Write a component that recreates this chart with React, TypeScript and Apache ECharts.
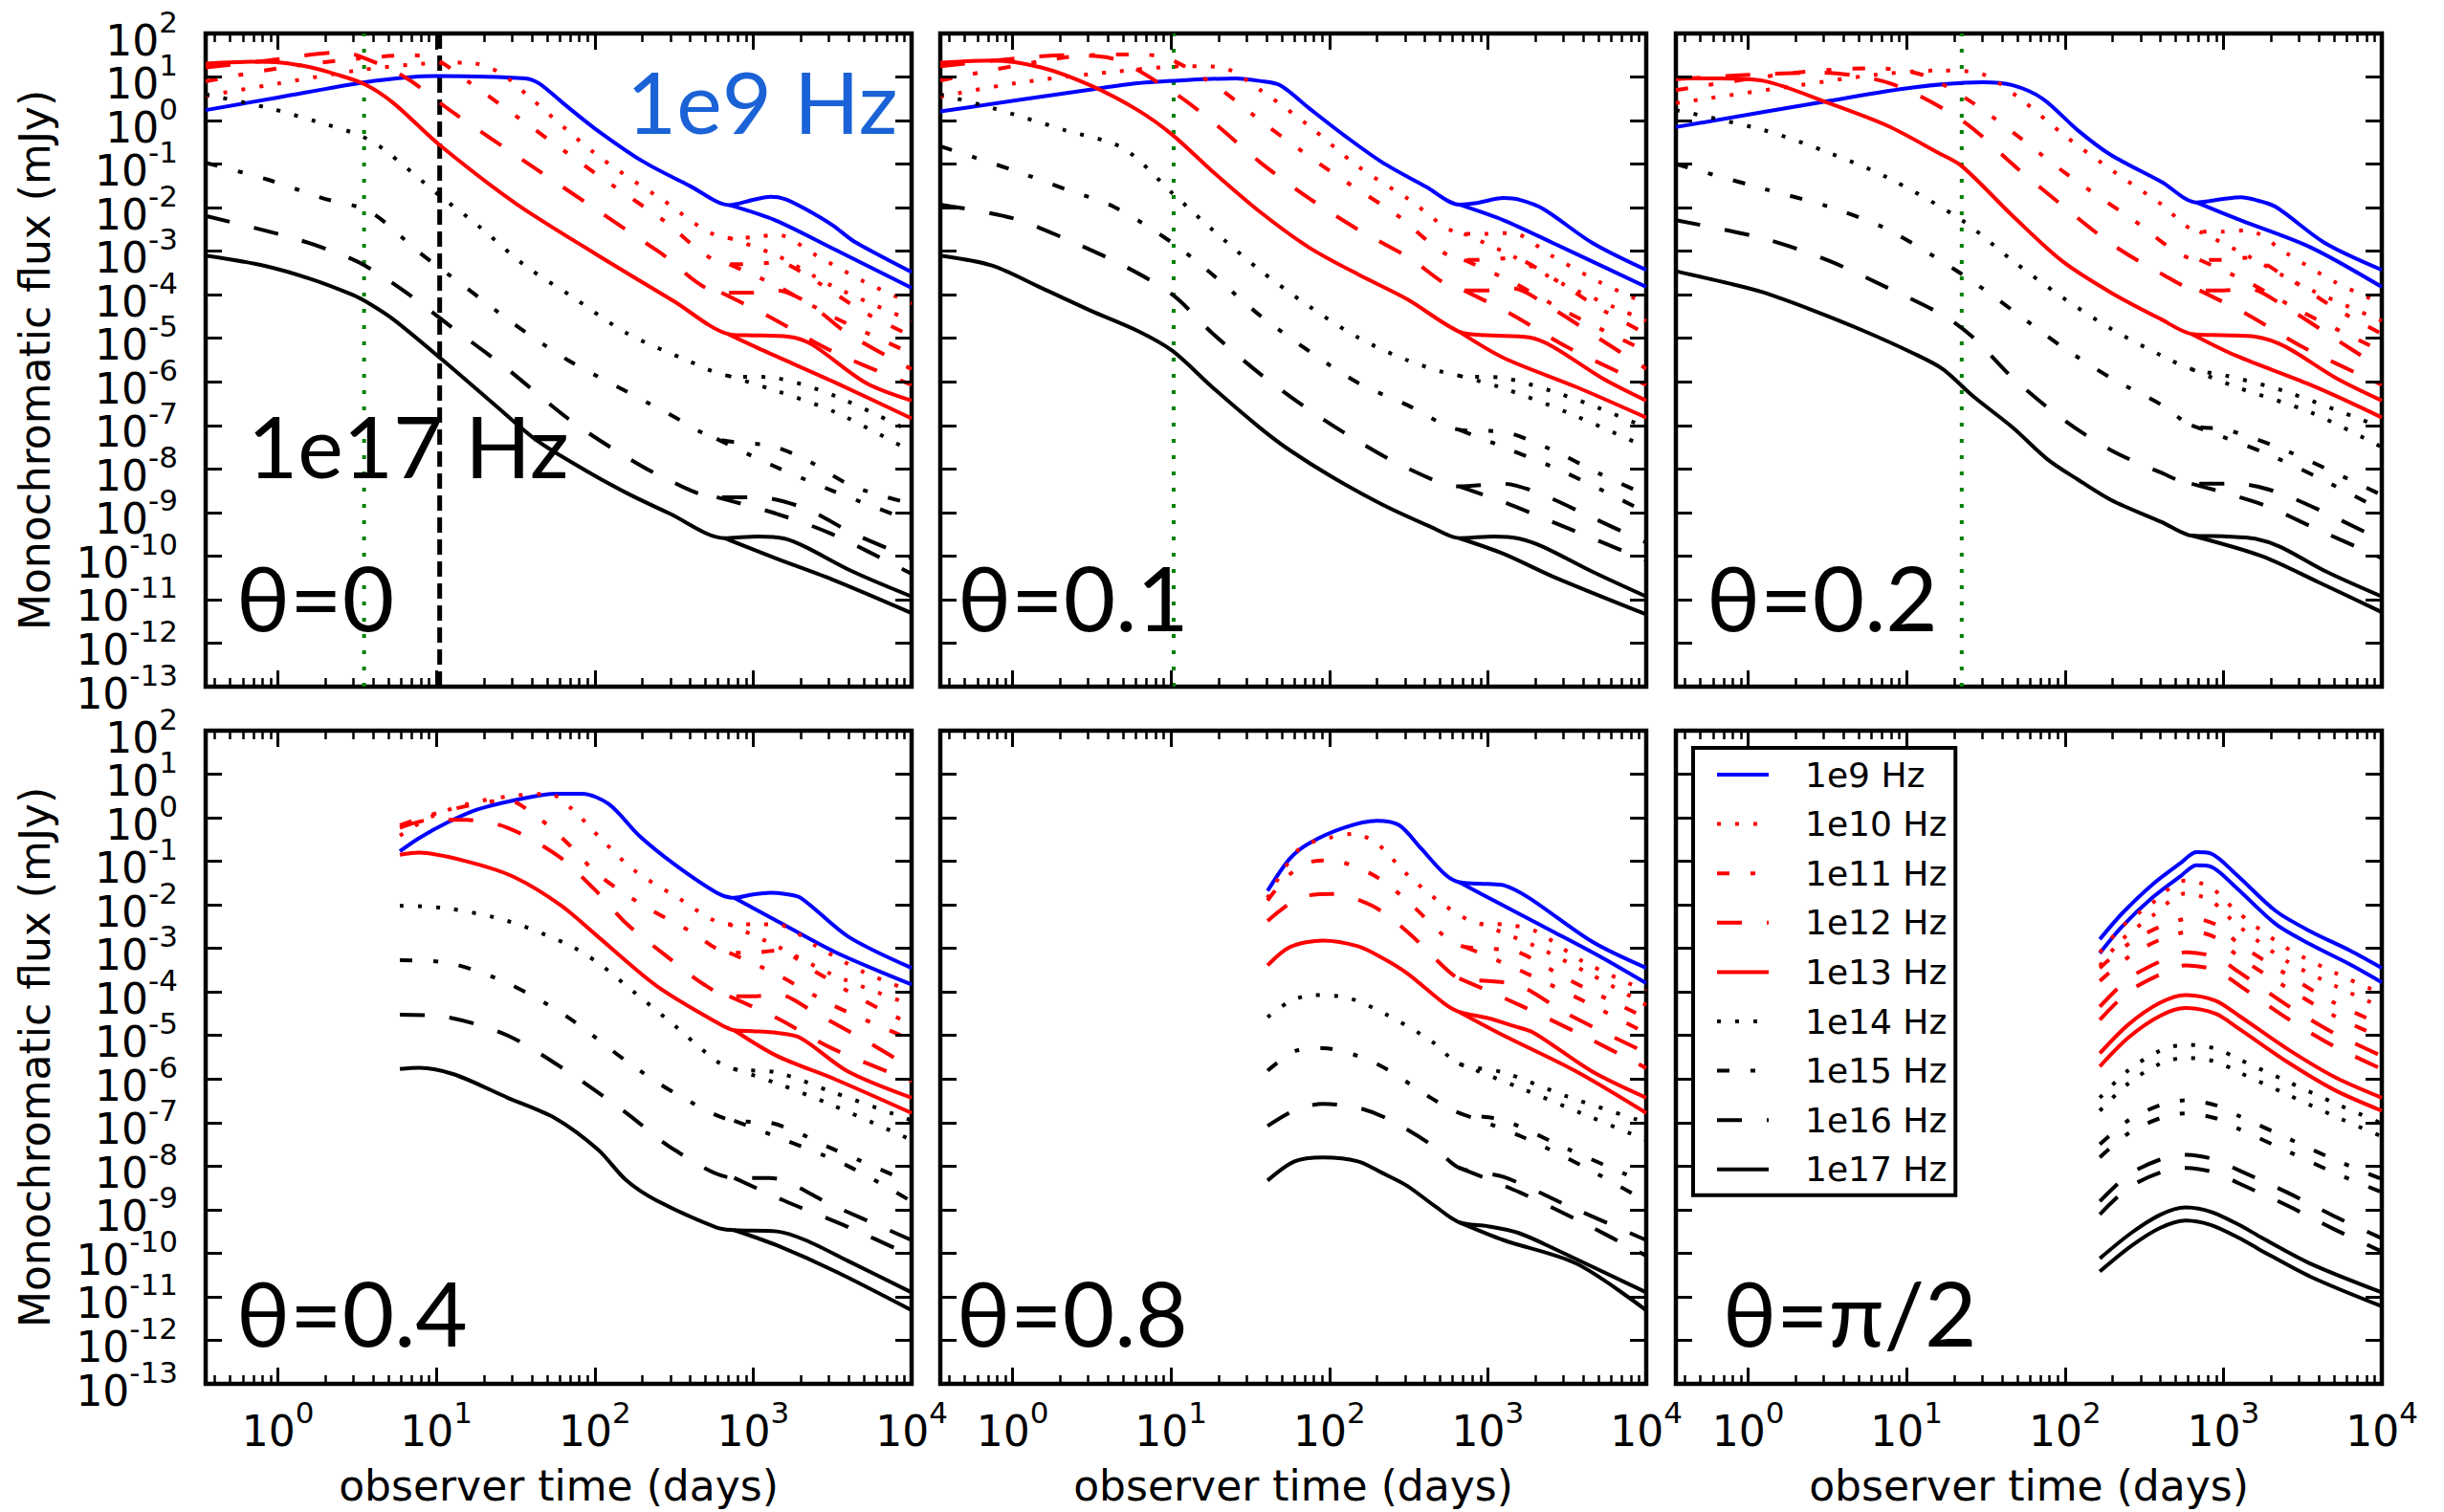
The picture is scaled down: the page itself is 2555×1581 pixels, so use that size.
import React, { useEffect, useRef } from "react";
import * as echarts from "echarts";

// ---------------- labels / ticks ----------------
const FREQS = ["1e9 Hz", "1e10 Hz", "1e11 Hz", "1e12 Hz", "1e13 Hz", "1e14 Hz", "1e15 Hz", "1e16 Hz", "1e17 Hz"];
const PANEL_TITLES = ["θ=0", "θ=0.1", "θ=0.2", "θ=0.4", "θ=0.8", "θ=π/2"];
const X_MAJOR = [1, 10, 100, 1000, 10000];
const X_MINOR = [0.4, 0.5, 0.6, 0.7, 0.8, 0.9, 2, 3, 4, 5, 6, 7, 8, 9, 20, 30, 40, 50, 60, 70, 80, 90,
  200, 300, 400, 500, 600, 700, 800, 900, 2000, 3000, 4000, 5000, 6000, 7000, 8000, 9000];
const Y_MAJOR = [1e-13, 1e-12, 1e-11, 1e-10, 1e-9, 1e-8, 1e-7, 1e-6, 1e-5, 1e-4, 1e-3, 1e-2, 1e-1, 1, 10, 100];
const X_MIN = 0.35, X_MAX = 10000, Y_MIN = 1e-13, Y_MAX = 100;

// vertical marker times (days)
const GREEN_T = [3.5, 10.4, 22.3]; // panels θ=0, 0.1, 0.2
const BLACK_T = [10.5];            // panel θ=0

// ---------------- data: [log10(days), log10(mJy)] ----------------
// "MAIN" = full light curve (incl. late bump), "FWD" = second branch that splits off at late times
const TH0_MAIN = [
  [[-0.456,0.24],[0,0.53],[0.55,0.88],[0.85,1.0],[1.0,1.02],[1.56,0.97],[1.65,0.85],[1.8,0.4],[2.0,-0.18],[2.3,-0.93],[2.6,-1.5],[2.85,-1.94],[3.0,-1.82],[3.11,-1.75],[3.2,-1.8],[3.33,-2.03],[3.5,-2.4],[3.63,-2.76],[3.8,-3.1],[4.0,-3.48]],
  [[-0.456,0.57],[0,0.85],[0.5,1.15],[0.9,1.3],[1.2,1.33],[1.4,1.1],[1.6,0.5],[2.0,-0.75],[2.4,-1.75],[2.85,-2.7],[3.0,-2.68],[3.15,-2.62],[3.4,-3.1],[3.7,-3.7],[4.0,-4.2]],
  [[-0.456,0.9],[0,1.2],[0.5,1.42],[0.85,1.5],[1.0,1.4],[1.2,0.9],[1.6,-0.15],[2.0,-1.2],[2.4,-2.2],[2.85,-3.3],[3.0,-3.3],[3.15,-3.25],[3.4,-3.7],[3.7,-4.4],[4.0,-4.95]],
  [[-0.456,1.22],[-0.06,1.38],[0.38,1.56],[0.5,1.5],[0.8,1.0],[1.1,0.2],[1.6,-1.04],[2.0,-2.02],[2.4,-3.0],[2.8,-3.95],[3.0,-3.95],[3.15,-3.9],[3.35,-4.2],[3.6,-4.9],[4.0,-5.71]],
  [[-0.456,1.31],[-0.17,1.35],[0.02,1.33],[0.21,1.22],[0.36,1.07],[0.55,0.83],[0.73,0.4],[1.02,-0.56],[1.5,-1.9],[2.0,-3.05],[2.5,-4.15],[2.84,-4.9],[2.96,-4.93],[3.22,-4.96],[3.37,-5.14],[3.71,-6.02],[4.0,-6.43]],
  [[-0.456,0.6],[-0.06,0.29],[0.24,-0.02],[0.51,-0.33],[0.66,-0.64],[1.02,-1.72],[1.26,-2.4],[1.56,-3.33],[1.86,-4.05],[2.2,-4.88],[2.58,-5.5],[2.84,-5.86],[3.14,-5.91],[3.52,-6.33],[4.0,-7.15]],
  [[-0.456,-0.97],[-0.06,-1.36],[0.28,-1.78],[0.58,-2.09],[0.89,-3.02],[1.19,-3.84],[1.49,-4.67],[1.83,-5.5],[2.2,-6.22],[2.47,-6.74],[2.77,-7.31],[3.11,-7.47],[3.33,-7.78],[3.63,-8.4],[4.0,-8.8]],
  [[-0.456,-2.19],[0.06,-2.66],[0.36,-3.02],[0.55,-3.33],[0.81,-3.95],[1.11,-4.78],[1.45,-5.71],[1.83,-6.84],[2.13,-7.57],[2.43,-8.19],[2.77,-8.65],[3.03,-8.65],[3.33,-8.91],[3.63,-9.48],[4.0,-10.05]],
  [[-0.456,-3.1],[-0.09,-3.33],[0.21,-3.64],[0.47,-4.0],[0.58,-4.21],[0.73,-4.57],[1.04,-5.5],[1.37,-6.53],[1.64,-7.36],[1.94,-8.03],[2.2,-8.55],[2.47,-9.02],[2.82,-9.59],[3.03,-9.55],[3.2,-9.6],[3.33,-9.79],[3.63,-10.36],[4.0,-10.93]],
];
const TH0_FWD = [
  [[2.85,-1.94],[3.14,-2.29],[3.52,-2.97],[4.0,-3.84]],
  [[2.85,-2.7],[3.15,-3.1],[3.5,-3.8],[4.0,-4.6]],
  [[2.85,-3.3],[3.15,-3.8],[3.5,-4.5],[4.0,-5.35]],
  [[2.8,-3.95],[3.1,-4.5],[3.5,-5.3],[4.0,-6.07]],
  [[2.84,-4.9],[3.07,-5.29],[3.52,-6.02],[4.0,-6.84]],
  [[2.84,-5.86],[3.14,-6.2],[3.52,-6.7],[4.0,-7.6]],
  [[2.77,-7.31],[3.11,-7.9],[3.5,-8.5],[4.0,-9.2]],
  [[2.77,-8.65],[3.14,-9.02],[3.5,-9.5],[4.0,-10.41]],
  [[2.82,-9.59],[3.14,-10.05],[3.52,-10.57],[4.0,-11.31]],
];

const TH01_MAIN = [
  [[-0.456,0.21],[0.49,0.71],[0.79,0.86],[1.1,0.93],[1.41,0.97],[1.56,0.91],[1.69,0.81],[1.87,0.29],[2.09,-0.33],[2.33,-0.95],[2.61,-1.52],[2.82,-1.93],[2.92,-1.9],[3.1,-1.78],[3.2,-1.82],[3.35,-2.03],[3.66,-2.81],[4.0,-3.43]],
  [[-0.456,0.55],[0.02,0.86],[0.64,1.12],[1.1,1.25],[1.32,1.22],[1.56,0.71],[1.87,-0.12],[2.18,-1.05],[2.49,-1.78],[2.85,-2.6],[3.0,-2.6],[3.15,-2.58],[3.4,-3.1],[3.7,-3.7],[4.0,-4.2]],
  [[-0.456,0.92],[0.33,1.45],[0.8,1.52],[1.0,1.4],[1.3,0.75],[1.6,-0.1],[2.0,-1.15],[2.4,-2.1],[2.85,-3.2],[3.0,-3.2],[3.15,-3.15],[3.4,-3.6],[3.7,-4.3],[4.0,-4.9]],
  [[-0.456,1.25],[0.0,1.42],[0.33,1.5],[0.6,1.45],[1.01,0.66],[1.26,-0.02],[1.56,-0.95],[1.87,-1.78],[2.18,-2.5],[2.49,-3.12],[2.85,-3.9],[3.0,-3.9],[3.15,-3.85],[3.4,-4.3],[3.7,-5.0],[4.0,-5.7]],
  [[-0.456,1.33],[-0.13,1.38],[0.18,1.22],[0.49,0.81],[0.79,0.24],[1.01,-0.33],[1.26,-1.16],[1.56,-2.09],[1.87,-2.91],[2.18,-3.53],[2.49,-4.1],[2.82,-4.85],[3.0,-4.93],[3.26,-4.98],[3.41,-5.19],[3.72,-5.91],[4.0,-6.43]],
  [[-0.456,0.6],[-0.13,0.29],[0.33,-0.22],[0.7,-0.64],[1.01,-1.67],[1.26,-2.5],[1.56,-3.43],[1.87,-4.26],[2.18,-4.98],[2.49,-5.5],[2.82,-5.86],[3.1,-5.91],[3.41,-6.22],[3.7,-6.6],[4.0,-7.05]],
  [[-0.456,-0.59],[0.02,-1.16],[0.33,-1.57],[0.64,-1.98],[1.01,-2.81],[1.26,-3.53],[1.56,-4.47],[1.87,-5.29],[2.18,-6.02],[2.49,-6.53],[2.82,-7.1],[3.1,-7.15],[3.41,-7.57],[3.7,-8.1],[4.0,-8.6]],
  [[-0.456,-1.93],[0.0,-2.24],[0.33,-2.71],[0.7,-3.33],[1.01,-4.0],[1.26,-4.88],[1.56,-5.81],[1.87,-6.64],[2.18,-7.36],[2.49,-7.98],[2.82,-8.4],[3.1,-8.34],[3.35,-8.6],[3.66,-9.12],[4.0,-9.69]],
  [[-0.456,-3.1],[-0.13,-3.33],[0.18,-3.84],[0.49,-4.36],[0.79,-4.83],[1.01,-5.29],[1.26,-6.12],[1.56,-7.05],[1.75,-7.57],[2.02,-8.19],[2.33,-8.81],[2.64,-9.33],[2.82,-9.59],[3.04,-9.55],[3.2,-9.6],[3.35,-9.79],[3.66,-10.36],[4.0,-10.93]],
];
const TH01_FWD = [
  [[2.82,-1.93],[3.1,-2.29],[3.41,-2.81],[4.0,-3.82]],
  [[2.85,-2.6],[3.15,-3.1],[3.5,-3.8],[4.0,-4.6]],
  [[2.85,-3.2],[3.15,-3.7],[3.5,-4.4],[4.0,-5.3]],
  [[2.85,-3.9],[3.15,-4.45],[3.5,-5.2],[4.0,-6.07]],
  [[2.82,-4.85],[3.1,-5.45],[3.56,-6.12],[4.0,-6.82]],
  [[2.82,-5.86],[3.1,-6.15],[3.5,-6.7],[4.0,-7.5]],
  [[2.82,-7.1],[3.1,-7.5],[3.5,-8.1],[4.0,-9.0]],
  [[2.82,-8.4],[3.1,-8.76],[3.41,-9.22],[4.0,-10.1]],
  [[2.82,-9.59],[3.1,-9.95],[3.41,-10.47],[4.0,-11.34]],
];

const TH02_MAIN = [
  [[-0.456,-0.15],[0.51,0.45],[1.04,0.76],[1.48,0.88],[1.67,0.81],[1.86,0.5],[2.08,-0.22],[2.29,-0.79],[2.61,-1.41],[2.83,-1.88],[3.0,-1.8],[3.11,-1.76],[3.2,-1.82],[3.33,-1.98],[3.64,-2.81],[4.0,-3.43]],
  [[-0.456,0.4],[0.3,0.8],[0.8,1.05],[1.2,1.15],[1.45,1.1],[1.7,0.55],[2.0,-0.35],[2.3,-1.15],[2.6,-1.9],[2.85,-2.55],[3.0,-2.55],[3.15,-2.52],[3.4,-3.05],[3.7,-3.7],[4.0,-4.2]],
  [[-0.456,0.7],[0.3,1.1],[0.8,1.2],[1.1,1.05],[1.4,0.45],[1.7,-0.35],[2.0,-1.2],[2.4,-2.2],[2.85,-3.2],[3.0,-3.2],[3.15,-3.15],[3.4,-3.6],[3.7,-4.3],[4.0,-4.9]],
  [[-0.456,0.95],[0.0,1.05],[0.45,1.1],[0.9,0.85],[1.35,0.0],[1.7,-1.1],[2.0,-2.0],[2.3,-2.85],[2.6,-3.5],[2.85,-3.9],[3.0,-3.9],[3.15,-3.85],[3.4,-4.3],[3.7,-5.0],[4.0,-5.7]],
  [[-0.456,0.97],[-0.18,0.97],[0.1,0.91],[0.51,0.4],[0.88,-0.12],[1.2,-0.74],[1.35,-1.05],[1.67,-2.19],[1.98,-3.22],[2.29,-3.95],[2.61,-4.57],[2.8,-4.9],[3.0,-4.93],[3.2,-4.96],[3.39,-5.19],[3.71,-5.91],[4.0,-6.43]],
  [[-0.456,0.24],[0.1,-0.22],[0.51,-0.74],[0.88,-1.31],[1.35,-2.29],[1.67,-3.22],[1.98,-4.05],[2.29,-4.78],[2.61,-5.4],[2.8,-5.71],[3.02,-5.86],[3.39,-6.22],[4.0,-7.05]],
  [[-0.456,-1.0],[0.1,-1.57],[0.51,-1.98],[0.88,-2.5],[1.35,-3.53],[1.67,-4.36],[1.98,-5.19],[2.29,-5.91],[2.61,-6.53],[2.8,-7.0],[3.02,-7.1],[3.39,-7.57],[4.0,-8.6]],
  [[-0.456,-2.29],[0.1,-2.71],[0.51,-3.22],[0.88,-3.84],[1.23,-4.47],[1.42,-4.98],[1.67,-5.91],[1.98,-6.84],[2.29,-7.57],[2.61,-8.09],[2.8,-8.34],[3.08,-8.34],[3.39,-8.6],[4.0,-9.64]],
  [[-0.456,-3.46],[-0.12,-3.74],[0.1,-3.95],[0.41,-4.36],[0.73,-4.83],[1.04,-5.34],[1.23,-5.71],[1.42,-6.33],[1.67,-7.05],[1.89,-7.78],[2.08,-8.24],[2.29,-8.71],[2.61,-9.22],[2.8,-9.53],[3.02,-9.55],[3.2,-9.6],[3.36,-9.79],[3.65,-10.36],[4.0,-10.93]],
];
const TH02_FWD = [
  [[2.83,-1.88],[3.11,-2.29],[3.55,-2.91],[4.0,-3.82]],
  [[2.85,-2.55],[3.15,-3.1],[3.5,-3.8],[4.0,-4.6]],
  [[2.85,-3.2],[3.15,-3.7],[3.5,-4.4],[4.0,-5.3]],
  [[2.85,-3.9],[3.15,-4.45],[3.5,-5.2],[4.0,-6.07]],
  [[2.8,-4.9],[3.08,-5.4],[3.55,-6.07],[4.0,-6.82]],
  [[2.8,-5.71],[3.08,-6.12],[3.55,-6.7],[4.0,-7.5]],
  [[2.8,-7.0],[3.24,-7.6],[3.6,-8.2],[4.0,-8.95]],
  [[2.8,-8.34],[3.24,-8.81],[3.6,-9.4],[4.0,-10.05]],
  [[2.8,-9.53],[3.24,-10.0],[3.6,-10.6],[4.0,-11.29]],
];

const TH04_MAIN = [
  [[0.77,-0.77],[0.89,-0.47],[1.07,-0.11],[1.26,0.19],[1.53,0.43],[1.75,0.55],[1.92,0.55],[2.09,0.31],[2.28,-0.41],[2.5,-1.06],[2.77,-1.72],[2.88,-1.84],[3.0,-1.76],[3.11,-1.72],[3.2,-1.75],[3.3,-1.84],[3.6,-2.73],[4.0,-3.45]],
  [[0.77,-0.41],[0.96,0.01],[1.19,0.31],[1.45,0.49],[1.71,0.55],[1.86,0.19],[2.02,-0.41],[2.24,-1.18],[2.5,-1.78],[2.85,-2.45],[3.0,-2.45],[3.15,-2.45],[3.4,-2.95],[3.7,-3.55],[4.0,-3.98]],
  [[0.77,-0.17],[1.0,0.1],[1.3,0.35],[1.45,0.4],[1.64,0.01],[1.83,-0.59],[2.02,-1.3],[2.3,-2.0],[2.6,-2.6],[2.85,-3.1],[3.0,-3.1],[3.15,-3.05],[3.4,-3.55],[3.7,-4.2],[4.0,-4.75]],
  [[0.77,-0.23],[0.96,-0.05],[1.19,-0.05],[1.45,-0.23],[1.77,-0.88],[2.0,-1.65],[2.2,-2.43],[2.45,-3.17],[2.69,-3.83],[2.85,-4.1],[3.0,-4.1],[3.15,-4.05],[3.4,-4.5],[3.7,-5.1],[4.0,-5.75]],
  [[0.77,-0.85],[0.89,-0.8],[1.19,-1.0],[1.49,-1.36],[1.79,-2.02],[2.02,-2.73],[2.39,-3.86],[2.77,-4.7],[2.88,-4.88],[3.0,-4.9],[3.15,-4.94],[3.3,-5.06],[3.6,-5.83],[4.0,-6.43]],
  [[0.77,-2.02],[1.07,-2.08],[1.45,-2.37],[1.83,-2.91],[2.02,-3.33],[2.24,-3.98],[2.5,-4.76],[2.77,-5.59],[2.88,-5.77],[3.15,-5.85],[3.5,-6.3],[4.0,-6.95]],
  [[0.77,-3.27],[1.07,-3.33],[1.45,-3.8],[1.83,-4.58],[2.2,-5.59],[2.5,-6.31],[2.88,-6.96],[3.1,-7.0],[3.5,-7.6],[4.0,-8.39]],
  [[0.77,-4.52],[1.07,-4.58],[1.45,-5.0],[1.83,-5.83],[2.2,-6.78],[2.5,-7.62],[2.88,-8.27],[3.1,-8.27],[3.5,-8.9],[4.0,-9.7]],
  [[0.77,-5.77],[0.89,-5.74],[1.11,-5.89],[1.45,-6.43],[1.75,-6.9],[2.02,-7.62],[2.2,-8.33],[2.39,-8.79],[2.77,-9.41],[2.88,-9.47],[3.15,-9.5],[3.33,-9.7],[3.6,-10.18],[4.0,-10.9]],
];
const TH04_FWD = [
  [[2.88,-1.84],[3.15,-2.37],[3.52,-3.09],[4.0,-3.83]],
  [[2.85,-2.45],[3.15,-2.95],[3.5,-3.6],[4.0,-4.3]],
  [[2.85,-3.1],[3.15,-3.6],[3.5,-4.3],[4.0,-5.1]],
  [[2.85,-4.1],[3.15,-4.6],[3.5,-5.3],[4.0,-6.05]],
  [[2.88,-4.88],[3.15,-5.47],[3.52,-6.01],[4.0,-6.78]],
  [[2.88,-5.77],[3.15,-6.1],[3.5,-6.6],[4.0,-7.4]],
  [[2.88,-6.96],[3.2,-7.4],[3.6,-8.0],[4.0,-8.81]],
  [[2.88,-8.27],[3.2,-8.8],[3.6,-9.4],[4.0,-10.06]],
  [[2.88,-9.47],[3.15,-9.82],[3.52,-10.42],[4.0,-11.31]],
];

const TH08_MAIN = [
  [[1.61,-1.68],[1.75,-0.94],[1.87,-0.59],[2.09,-0.23],[2.3,-0.07],[2.44,-0.17],[2.58,-0.71],[2.73,-1.3],[2.82,-1.48],[3.0,-1.52],[3.1,-1.55],[3.26,-1.84],[3.66,-2.85],[4.0,-3.45]],
  [[1.61,-1.84],[1.81,-0.71],[2.02,-0.44],[2.15,-0.37],[2.3,-0.59],[2.49,-1.3],[2.73,-2.02],[2.95,-2.43],[3.1,-2.45],[3.3,-2.6],[3.6,-3.3],[4.0,-3.98]],
  [[1.61,-1.9],[1.75,-1.3],[1.9,-1.0],[2.0,-0.98],[2.27,-1.3],[2.49,-1.9],[2.73,-2.73],[2.86,-2.97],[3.0,-3.0],[3.2,-3.1],[3.5,-3.7],[4.0,-4.6]],
  [[1.61,-2.37],[1.81,-1.84],[2.02,-1.75],[2.27,-2.02],[2.49,-2.61],[2.73,-3.45],[2.82,-3.69],[3.0,-3.75],[3.2,-3.85],[3.5,-4.5],[4.0,-5.4]],
  [[1.61,-3.39],[1.75,-2.97],[1.96,-2.82],[2.18,-2.95],[2.33,-3.21],[2.49,-3.57],[2.73,-4.28],[2.82,-4.46],[3.0,-4.6],[3.16,-4.78],[3.29,-4.94],[3.66,-5.83],[4.0,-6.43]],
  [[1.61,-4.58],[1.75,-4.22],[1.9,-4.07],[2.12,-4.14],[2.36,-4.52],[2.64,-5.12],[2.82,-5.65],[3.1,-5.85],[3.5,-6.4],[4.0,-7.0]],
  [[1.61,-5.81],[1.79,-5.35],[1.96,-5.29],[2.18,-5.47],[2.36,-5.77],[2.64,-6.43],[2.82,-6.78],[3.1,-6.95],[3.5,-7.6],[4.0,-8.39]],
  [[1.61,-7.08],[1.78,-6.72],[1.96,-6.57],[2.18,-6.66],[2.36,-6.9],[2.64,-7.5],[2.82,-8.04],[3.1,-8.25],[3.5,-8.9],[4.0,-9.7]],
  [[1.61,-8.33],[1.78,-7.89],[1.96,-7.8],[2.18,-7.89],[2.33,-8.15],[2.49,-8.45],[2.67,-8.93],[2.82,-9.29],[3.0,-9.38],[3.19,-9.53],[3.41,-9.88],[4.0,-10.9]],
];
const TH08_FWD = [
  [[2.82,-1.48],[3.1,-2.02],[3.41,-2.61],[3.72,-3.21],[4.0,-3.8]],
  [[2.95,-2.43],[3.3,-2.95],[3.65,-3.6],[4.0,-4.3]],
  [[2.86,-2.97],[3.2,-3.5],[3.6,-4.2],[4.0,-4.95]],
  [[2.82,-3.69],[3.2,-4.3],[3.6,-5.0],[4.0,-5.75]],
  [[2.82,-4.46],[3.1,-5.0],[3.56,-5.83],[4.0,-6.78]],
  [[2.82,-5.65],[3.2,-6.2],[3.6,-6.8],[4.0,-7.4]],
  [[2.82,-6.78],[3.2,-7.3],[3.6,-8.0],[4.0,-8.81]],
  [[2.82,-8.04],[3.2,-8.6],[3.6,-9.3],[4.0,-10.06]],
  [[2.82,-9.29],[3.1,-9.7],[3.56,-10.24],[4.0,-11.31]],
];

// θ = π/2: two parallel curves per frequency (upper / lower)
const TH90_UPPER = [
  [[2.22,-2.79],[2.36,-2.2],[2.55,-1.54],[2.73,-1.04],[2.83,-0.79],[2.92,-0.82],[3.08,-1.3],[3.33,-2.14],[3.55,-2.61],[3.8,-3.05],[4.0,-3.45]],
  [[2.22,-3.09],[2.36,-2.5],[2.55,-1.96],[2.76,-1.44],[2.92,-1.6],[3.08,-2.14],[3.39,-2.97],[3.71,-3.57],[4.0,-4.04]],
  [[2.22,-3.45],[2.4,-2.9],[2.6,-2.5],[2.8,-2.31],[2.95,-2.45],[3.1,-2.9],[3.4,-3.6],[3.7,-4.25],[4.0,-4.75]],
  [[2.22,-4.34],[2.4,-3.7],[2.6,-3.3],[2.76,-3.09],[2.95,-3.2],[3.1,-3.55],[3.4,-4.3],[3.7,-4.95],[4.0,-5.47]],
  [[2.22,-5.41],[2.4,-4.75],[2.6,-4.25],[2.76,-4.07],[2.95,-4.2],[3.1,-4.55],[3.4,-5.3],[3.7,-5.95],[4.0,-6.43]],
  [[2.22,-6.43],[2.4,-5.8],[2.6,-5.35],[2.76,-5.21],[2.95,-5.3],[3.1,-5.55],[3.4,-6.05],[3.7,-6.55],[4.0,-7.02]],
  [[2.22,-7.5],[2.4,-6.95],[2.6,-6.6],[2.76,-6.49],[2.95,-6.6],[3.1,-6.85],[3.4,-7.35],[3.7,-7.85],[4.0,-8.3]],
  [[2.22,-8.81],[2.4,-8.2],[2.6,-7.85],[2.76,-7.74],[2.95,-7.85],[3.1,-8.1],[3.4,-8.6],[3.7,-9.15],[4.0,-9.66]],
  [[2.22,-10.12],[2.42,-9.53],[2.6,-9.12],[2.76,-8.95],[2.92,-9.05],[3.1,-9.35],[3.24,-9.64],[3.55,-10.24],[4.0,-10.9]],
];
const TH90_LOWER = [
  [[2.22,-3.11],[2.36,-2.5],[2.55,-1.84],[2.73,-1.34],[2.83,-1.09],[2.92,-1.12],[3.08,-1.6],[3.33,-2.44],[3.55,-2.91],[3.8,-3.37],[4.0,-3.78]],
  [[2.22,-3.4],[2.36,-2.8],[2.55,-2.26],[2.76,-1.74],[2.92,-1.9],[3.08,-2.44],[3.39,-3.27],[3.71,-3.87],[4.0,-4.35]],
  [[2.22,-3.75],[2.4,-3.2],[2.6,-2.8],[2.8,-2.61],[2.95,-2.75],[3.1,-3.2],[3.4,-3.9],[3.7,-4.55],[4.0,-5.05]],
  [[2.22,-4.64],[2.4,-4.0],[2.6,-3.6],[2.76,-3.39],[2.95,-3.5],[3.1,-3.85],[3.4,-4.6],[3.7,-5.25],[4.0,-5.77]],
  [[2.22,-5.71],[2.4,-5.05],[2.6,-4.55],[2.76,-4.37],[2.95,-4.5],[3.1,-4.85],[3.4,-5.6],[3.7,-6.25],[4.0,-6.73]],
  [[2.22,-6.73],[2.4,-6.1],[2.6,-5.65],[2.76,-5.51],[2.95,-5.6],[3.1,-5.85],[3.4,-6.35],[3.7,-6.85],[4.0,-7.32]],
  [[2.22,-7.8],[2.4,-7.25],[2.6,-6.9],[2.76,-6.79],[2.95,-6.9],[3.1,-7.15],[3.4,-7.65],[3.7,-8.15],[4.0,-8.6]],
  [[2.22,-9.11],[2.4,-8.5],[2.6,-8.15],[2.76,-8.04],[2.95,-8.15],[3.1,-8.4],[3.4,-8.9],[3.7,-9.45],[4.0,-9.96]],
  [[2.22,-10.42],[2.42,-9.83],[2.6,-9.42],[2.76,-9.25],[2.92,-9.35],[3.1,-9.65],[3.24,-9.94],[3.55,-10.54],[4.0,-11.22]],
];

const PANELS = [
  [TH0_MAIN, TH0_FWD], [TH01_MAIN, TH01_FWD], [TH02_MAIN, TH02_FWD],
  [TH04_MAIN, TH04_FWD], [TH08_MAIN, TH08_FWD], [TH90_UPPER, TH90_LOWER],
];

// ---------------- styles / layout ----------------
const LINE_STYLES: any[] = [
  { color: "#0000ff", type: "solid" },
  { color: "#ff0000", type: [4, 15] },
  { color: "#ff0000", type: [13, 22, 5, 22] },
  { color: "#ff0000", type: [26, 26] },
  { color: "#ff0000", type: "solid" },
  { color: "#000000", type: [4, 15] },
  { color: "#000000", type: [13, 22, 5, 22] },
  { color: "#000000", type: [26, 26] },
  { color: "#000000", type: "solid" },
];
const COLS = [215, 983, 1752];
const ROWS = [35, 764];
const PW = 738, PH = 683;
const TITLE_POS = [[247, 623], [1001, 623], [1784, 623], [247, 1371], [1000, 1371], [1801, 1371]];
const FONT = "DejaVu Sans";
const BIG_FONT = "Lato, 'Noto Sans', sans-serif";

const toXY = (pts: number[][]) => pts.map(([lx, ly]) => [Math.pow(10, lx), Math.pow(10, ly)]);
// keep the end ticks just inside the axis extent so they are not dropped
const inside = (vals: number[], lo: number, hi: number) =>
  vals.map((v) => (v <= lo ? v * 1.000001 : v >= hi ? v * 0.999999 : v));
const Y_TICKS = inside(Y_MAJOR, Y_MIN, Y_MAX);
// the crowded y labels are split over two label layers so that none of them is auto-hidden
const Y_LABELS_A = Y_TICKS.filter((_, i) => i % 2 === 0);
const Y_LABELS_B = Y_TICKS.filter((_, i) => i % 2 === 1);

// base "10" pushed down / exponent pushed up inside a 40px line box
const rich = {
  b: { fontSize: 44, fontFamily: FONT, color: "#000", lineHeight: 40, padding: [14, 0, 0, 0], verticalAlign: "middle" },
  s: { fontSize: 31, fontFamily: FONT, color: "#000", lineHeight: 40, padding: [0, 0, 25, 0], verticalAlign: "middle" },
};
const powLabel = (v: number) => `{b|10}{s|${Math.round(Math.log10(v))}}`;

function buildOption() {
  const grid: any[] = [], xAxis: any[] = [], yAxis: any[] = [], series: any[] = [], graphic: any[] = [];
  for (let p = 0; p < 6; p++) {
    const col = p % 3, row = Math.floor(p / 3);
    grid.push({ left: COLS[col], top: ROWS[row], width: PW, height: PH, show: true, borderColor: "#000", borderWidth: 4.5, backgroundColor: "transparent", z: 1 });
    const xIdx = xAxis.length;
    const xb = { type: "log", logBase: 10, gridIndex: p, min: X_MIN, max: X_MAX, splitLine: { show: false }, axisLine: { show: false }, minorTick: { show: false }, z: 4 };
    const major = { show: true, inside: true, length: 17, lineStyle: { color: "#000", width: 3 }, customValues: X_MAJOR };
    const minor = { show: true, inside: true, length: 9, lineStyle: { color: "#000", width: 2.5 }, customValues: X_MINOR };
    xAxis.push({
      ...xb, position: "bottom", axisTick: major,
      axisLabel: { show: row === 1, customValues: X_MAJOR, formatter: powLabel, rich, margin: 22, showMinLabel: true, showMaxLabel: true },
      name: row === 1 ? "observer time (days)" : "", nameLocation: "middle", nameGap: 84,
      nameTextStyle: { fontSize: 44, fontFamily: FONT, color: "#000" },
    });
    xAxis.push({ ...xb, position: "bottom", axisTick: minor, axisLabel: { show: false } });
    xAxis.push({ ...xb, position: "top", axisTick: major, axisLabel: { show: false } });
    xAxis.push({ ...xb, position: "top", axisTick: minor, axisLabel: { show: false } });

    const yIdx = yAxis.length;
    const yb = { type: "log", logBase: 10, gridIndex: p, min: Y_MIN, max: Y_MAX, splitLine: { show: false }, axisLine: { show: false }, minorTick: { show: false }, z: 4 };
    const yTick = { show: true, inside: true, length: 17, lineStyle: { color: "#000", width: 3 }, customValues: Y_TICKS };
    yAxis.push({
      ...yb, position: "left", axisTick: yTick,
      axisLabel: { show: col === 0, customValues: Y_LABELS_A, formatter: powLabel, rich, margin: 29, showMinLabel: true, showMaxLabel: true },
      name: col === 0 ? "Monochromatic flux (mJy)" : "", nameLocation: "middle", nameGap: 157,
      nameTextStyle: { fontSize: 44, fontFamily: FONT, color: "#000" },
    });
    yAxis.push({ ...yb, position: "right", axisTick: yTick, axisLabel: { show: false } });
    if (col === 0) {
      yAxis.push({
        ...yb, position: "left", axisTick: { show: false },
        axisLabel: { show: true, customValues: Y_LABELS_B, formatter: powLabel, rich, margin: 29, showMinLabel: true, showMaxLabel: true },
      });
    }

    const [mainSet, fwdSet] = PANELS[p];
    for (let f = 0; f < FREQS.length; f++) {
      const st = LINE_STYLES[f];
      for (const pts of [mainSet[f], fwdSet[f]]) {
        series.push({
          type: "line", name: FREQS[f], xAxisIndex: xIdx, yAxisIndex: yIdx,
          data: toXY(pts), showSymbol: false, symbol: "none", smooth: 0.3, clip: true, silent: true, z: 3,
          lineStyle: { color: st.color, width: 4, type: st.type },
          itemStyle: { color: st.color }, emphasis: { disabled: true },
        });
      }
    }
    // vertical markers
    if (p < GREEN_T.length) {
      series.push({ type: "line", name: "", xAxisIndex: xIdx, yAxisIndex: yIdx, data: [[GREEN_T[p], Y_MIN], [GREEN_T[p], Y_MAX]],
        showSymbol: false, symbol: "none", silent: true, z: 2, lineStyle: { color: "#008000", width: 4, type: [4, 13] } });
    }
    if (p < BLACK_T.length) {
      series.push({ type: "line", name: "", xAxisIndex: xIdx, yAxisIndex: yIdx, data: [[BLACK_T[p], Y_MIN], [BLACK_T[p], Y_MAX]],
        showSymbol: false, symbol: "none", silent: true, z: 2, lineStyle: { color: "#000", width: 5, type: [16, 7] } });
    }
    graphic.push({ type: "text", x: TITLE_POS[p][0], y: TITLE_POS[p][1], z: 10,
      style: { text: PANEL_TITLES[p], fontSize: 94, fontFamily: BIG_FONT, fill: "#000", verticalAlign: "middle", align: "left" } });
  }
  graphic.push({ type: "text", x: 655, y: 105, z: 10,
    style: { text: "1e9 Hz", fontSize: 90, fontFamily: BIG_FONT, fill: "#1a62d6", verticalAlign: "middle", align: "left" } });
  graphic.push({ type: "text", x: 259, y: 465, z: 10,
    style: { text: "1e17 Hz", fontSize: 90, fontFamily: BIG_FONT, fill: "#000", verticalAlign: "middle", align: "left" } });

  return {
    animation: false,
    backgroundColor: "#fff",
    textStyle: { fontFamily: FONT },
    grid, xAxis, yAxis, series, graphic,
    legend: {
      data: FREQS, orient: "vertical", left: 1770, top: 782, padding: [8, 9, 7, 23],
      itemGap: 11.6, itemWidth: 54, itemHeight: 14, selectedMode: false,
      borderColor: "#000", borderWidth: 4, backgroundColor: "#fff", borderRadius: 0,
      textStyle: { fontSize: 36, fontFamily: FONT, color: "#000", lineHeight: 40, padding: [0, 0, 0, 33] },
      lineStyle: { width: 4 },
      itemStyle: { opacity: 0, borderWidth: 0 },
    },
  };
}

export default function App() {
  const ref = useRef<HTMLDivElement>(null);
  useEffect(() => {
    if (!ref.current) return;
    const chart = echarts.init(ref.current, undefined, { renderer: "svg" });
    chart.setOption(buildOption() as any);
    return () => chart.dispose();
  }, []);
  return <div ref={ref} style={{ position: "absolute", left: 0, top: 0, width: 2555, height: 1581 }} />;
}
